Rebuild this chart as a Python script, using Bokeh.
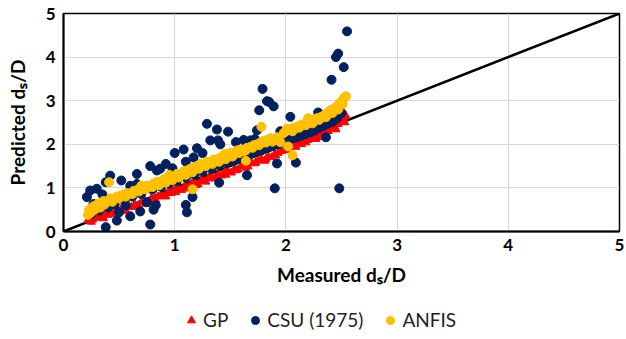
from bokeh.plotting import figure
from bokeh.layouts import column
from bokeh.models import Range1d, Legend, LegendItem, FixedTicker
from bokeh.embed import file_html
from bokeh.resources import INLINE

# ---------------- data ----------------
axis_ticks = [0, 1, 2, 3, 4, 5]
ref_line = [0, 5]

gp_x = [0.22, 0.24, 0.26, 0.28, 0.30, 0.33, 0.35, 0.38, 0.40, 0.43,
        0.46, 0.49, 0.52, 0.55, 0.58, 0.61, 0.64, 0.67, 0.70, 0.73,
        0.76, 0.79, 0.82, 0.85, 0.88, 0.91, 0.94, 0.97, 1.00, 1.03,
        1.06, 1.09, 1.12, 1.15, 1.18, 1.21, 1.24, 1.27, 1.30, 1.33,
        1.36, 1.39, 1.42, 1.45, 1.48, 1.51, 1.54, 1.57, 1.60, 1.63,
        1.66, 1.69, 1.72, 1.75, 1.78, 1.81, 1.84, 1.87, 1.90, 1.93,
        1.96, 1.99, 2.02, 2.05, 2.08, 2.11, 2.14, 2.17, 2.20, 2.23,
        2.26, 2.29, 2.32, 2.35, 2.38, 2.41, 2.44, 2.47, 2.50, 2.52, 2.54,
        0.25, 0.36, 0.47, 0.56, 0.65, 0.74, 0.83, 0.92, 1.01, 1.10,
        1.19, 1.28, 1.37, 1.46, 1.55, 1.64, 1.73, 1.82, 1.91, 2.00,
        2.09, 2.18, 2.27, 2.36, 2.45, 2.53]
gp_y = [0.26, 0.30, 0.27, 0.33, 0.31, 0.36, 0.33, 0.40, 0.38, 0.44,
        0.43, 0.49, 0.52, 0.50, 0.58, 0.56, 0.62, 0.60, 0.67, 0.70,
        0.66, 0.76, 0.74, 0.80, 0.83, 0.81, 0.90, 0.88, 0.96, 0.98,
        0.95, 1.04, 1.02, 1.10, 1.12, 1.08, 1.17, 1.15, 1.22, 1.25,
        1.21, 1.30, 1.28, 1.36, 1.38, 1.35, 1.44, 1.42, 1.50, 1.52,
        1.49, 1.58, 1.56, 1.63, 1.66, 1.62, 1.72, 1.70, 1.78, 1.80,
        1.84, 1.88, 1.92, 1.95, 1.97, 2.02, 2.00, 2.08, 2.10, 2.14,
        2.18, 2.16, 2.24, 2.28, 2.30, 2.36, 2.40, 2.46, 2.52, 2.58, 2.65,
        0.22, 0.30, 0.40, 0.47, 0.57, 0.63, 0.72, 0.80, 0.90, 0.98,
        1.06, 1.14, 1.24, 1.30, 1.40, 1.46, 1.58, 1.66, 1.74, 1.86,
        1.94, 2.04, 2.12, 2.22, 2.34, 2.50]

csu_x = [0.25, 0.32, 0.40, 0.46, 0.55, 0.62, 0.70, 0.80, 0.88, 0.95,
         1.02, 1.10, 1.18, 1.25, 1.33, 1.40, 1.47, 1.52, 1.57, 1.62,
         1.67, 1.72, 1.78, 1.84, 1.88, 1.93, 1.97, 2.02, 2.06, 2.10,
         2.14, 2.18, 2.22, 2.26, 2.30, 2.34, 2.38, 2.42, 2.46, 2.50,
         2.55, 2.47, 2.45, 2.52, 2.41, 2.48, 2.36, 2.29, 1.79, 1.85,
         1.89, 1.83, 1.76, 2.04, 1.74, 1.92, 1.65, 1.90, 2.09, 1.29,
         1.48, 1.38, 1.39, 1.32, 1.20, 1.08, 1.00, 0.92, 0.78, 0.84,
         1.40, 1.16, 1.10, 1.11, 0.38, 0.78, 0.21, 0.24, 0.30, 0.42,
         0.38, 0.52, 0.66, 0.87, 0.60, 0.48, 0.50, 0.69, 0.81, 0.83,
         0.75, 0.27, 0.66, 1.62, 1.68, 1.17, 1.41, 1.55, 1.25, 1.10,
         0.98, 0.60, 0.35, 1.72, 1.95, 2.34, 0.56, 0.45]
csu_y = [0.40, 0.48, 0.55, 0.62, 0.70, 0.80, 0.86, 0.96, 1.02, 1.10,
         1.16, 1.24, 1.30, 1.38, 1.44, 1.52, 1.58, 1.62, 1.66, 1.72,
         1.76, 1.82, 1.86, 1.92, 1.96, 2.00, 2.06, 2.10, 2.14, 2.16,
         2.20, 2.24, 2.28, 2.32, 2.38, 2.44, 2.48, 2.52, 2.60, 2.72,
         4.59, 4.08, 4.00, 3.77, 3.48, 0.99, 2.16, 2.73, 3.27, 2.97,
         2.87, 2.99, 2.78, 2.63, 2.32, 1.56, 1.29, 0.99, 1.58, 2.47,
         2.29, 2.34, 2.09, 2.09, 1.91, 1.88, 1.80, 1.55, 1.50, 1.40,
         1.12, 0.79, 0.61, 0.44, 0.10, 0.16, 0.79, 0.94, 0.98, 1.28,
         1.13, 1.17, 1.32, 1.44, 0.35, 0.25, 0.44, 0.46, 0.50, 0.60,
         0.67, 0.63, 1.09, 2.10, 2.09, 1.70, 2.00, 2.05, 1.80, 1.60,
         1.45, 1.05, 0.85, 2.12, 2.30, 2.43, 0.60, 0.70]

anfis_x = [0.22, 0.23, 0.25, 0.27, 0.29, 0.31, 0.34, 0.36, 0.39, 0.42,
           0.45, 0.48, 0.51, 0.54, 0.57, 0.60, 0.63, 0.66, 0.69, 0.72,
           0.75, 0.78, 0.81, 0.84, 0.87, 0.90, 0.93, 0.96, 0.99, 1.02,
           1.05, 1.08, 1.11, 1.14, 1.17, 1.20, 1.23, 1.26, 1.29, 1.32,
           1.35, 1.38, 1.41, 1.44, 1.47, 1.50, 1.53, 1.56, 1.59, 1.62,
           1.65, 1.68, 1.71, 1.74, 1.77, 1.80, 1.83, 1.86, 1.89, 1.92,
           1.95, 1.98, 2.01, 2.04, 2.07, 2.10, 2.13, 2.16, 2.19, 2.22,
           2.25, 2.28, 2.31, 2.34, 2.37, 2.40, 2.43, 2.46, 2.48, 2.50,
           2.52, 2.54, 0.41, 1.16, 1.64, 1.78, 2.06, 2.02,
           0.24, 0.28, 0.33, 0.37, 0.44, 0.50, 0.56, 0.62, 0.68, 0.74,
           0.80, 0.86, 0.92, 0.98, 1.04, 1.10, 1.16, 1.22, 1.28, 1.34,
           1.40, 1.46, 1.52, 1.58, 1.64, 1.70, 1.76, 1.82, 1.88, 1.94,
           2.00, 2.06, 2.12, 2.18, 2.24, 2.30, 2.36, 2.42, 2.47, 2.51,
           0.70, 0.95, 1.45, 2.20]
anfis_y = [0.38, 0.50, 0.45, 0.58, 0.55, 0.64, 0.62, 0.70, 0.68, 0.76,
           0.74, 0.80, 0.82, 0.85, 0.88, 0.87, 0.93, 0.95, 1.00, 0.98,
           1.05, 1.04, 1.10, 1.14, 1.12, 1.20, 1.18, 1.26, 1.24, 1.32,
           1.30, 1.38, 1.40, 1.44, 1.46, 1.50, 1.55, 1.52, 1.60, 1.58,
           1.65, 1.63, 1.70, 1.74, 1.72, 1.80, 1.78, 1.86, 1.88, 1.84,
           1.92, 1.94, 1.98, 2.00, 2.04, 2.08, 2.10, 2.14, 2.12, 2.16,
           2.05, 2.26, 2.36, 2.34, 2.38, 2.40, 2.44, 2.46, 2.50, 2.54,
           2.56, 2.60, 2.62, 2.66, 2.72, 2.78, 2.82, 2.88, 2.94, 2.98,
           3.06, 3.10, 1.13, 0.97, 1.62, 2.40, 1.75, 1.95,
           0.42, 0.50, 0.55, 0.62, 0.68, 0.76, 0.80, 0.86, 0.92, 0.97,
           1.02, 1.06, 1.12, 1.18, 1.24, 1.30, 1.36, 1.44, 1.50, 1.55,
           1.60, 1.66, 1.72, 1.80, 1.86, 1.92, 1.98, 2.04, 2.06, 2.10,
           2.30, 2.30, 2.38, 2.44, 2.48, 2.56, 2.62, 2.72, 2.80, 2.92,
           1.05, 1.30, 1.78, 2.60]

series_labels = ["GP", "CSU (1975)", "ANFIS"]
series_colors = ["#FF0000", "#002060", "#FFC000"]
series_markers = ["triangle", "circle", "circle"]
x_title = "Measured d\u209b/D"
y_title = "Predicted d\u209b/D"

FONT = "Lato"

# ---------------- main plot ----------------
p = figure(width=626, height=295, output_backend="svg", toolbar_location=None,
           x_range=Range1d(0, 5), y_range=Range1d(0, 5),
           min_border_left=63, min_border_right=7, min_border_top=13,
           min_border_bottom=64)
p.background_fill_color = "white"
p.border_fill_color = "white"
p.outline_line_color = "black"
p.outline_line_width = 1.5

for ax in (p.xaxis[0], p.yaxis[0]):
    ax.ticker = FixedTicker(ticks=axis_ticks)
    ax.axis_line_color = "black"
    ax.axis_line_width = 2
    ax.major_tick_line_color = None
    ax.minor_tick_line_color = None
    ax.major_tick_out = 0
    ax.major_tick_in = 0
    ax.minor_tick_out = 0
    ax.minor_tick_in = 0
    ax.major_label_text_font = FONT
    ax.major_label_text_font_size = "17px"
    ax.major_label_text_font_style = "bold"
    ax.major_label_text_color = "black"
    ax.axis_label_text_font = FONT
    ax.axis_label_text_font_size = "19px"
    ax.axis_label_text_font_style = "bold"
    ax.axis_label_text_color = "black"
p.xaxis.major_label_standoff = 7
p.yaxis.major_label_standoff = 8
p.xaxis.axis_label = x_title
p.yaxis.axis_label = y_title
p.xaxis.axis_label_standoff = 9
p.yaxis.axis_label_standoff = 14

p.xgrid.grid_line_color = "#D9D9D9"
p.ygrid.grid_line_color = "#D9D9D9"
p.xgrid.grid_line_width = 1.2
p.ygrid.grid_line_width = 1.2

series = [(gp_x, gp_y, 8), (csu_x, csu_y, 9), (anfis_x, anfis_y, 9)]

p.line(ref_line, ref_line, line_color="black", line_width=2.5)
for (sx, sy, sz), col, mk in zip(series, series_colors, series_markers):
    p.scatter(sx, sy, marker=mk, size=sz, fill_color=col, line_color=col)

# ---------------- legend strip (its frame aligns with the main frame) ----------------
q = figure(width=626, height=44, output_backend="svg", toolbar_location=None,
           x_range=Range1d(10, 11), y_range=Range1d(10, 11),
           x_axis_type=None, y_axis_type=None,
           min_border_left=0, min_border_right=0, min_border_top=0,
           min_border_bottom=0)
q.outline_line_color = None
q.background_fill_color = "white"
q.border_fill_color = "white"
items = []
for (sx, sy, sz), lab, col, mk in zip(series, series_labels, series_colors, series_markers):
    r = q.scatter(sx, sy, marker=mk, size=sz, fill_color=col, line_color=col)
    items.append(LegendItem(label=lab, renderers=[r]))
legend = Legend(items=items, orientation="horizontal", location=(118, 8),
                glyph_width=20, glyph_height=20, label_standoff=2, spacing=17,
                padding=0, margin=0, border_line_color=None,
                background_fill_alpha=0, label_height=20,
                label_text_font=FONT, label_text_font_size="19px",
                label_text_color="#1f1f1f")
q.add_layout(legend)

layout = column(p, q, spacing=0)
open("out.html", "w").write(file_html(layout, INLINE))
